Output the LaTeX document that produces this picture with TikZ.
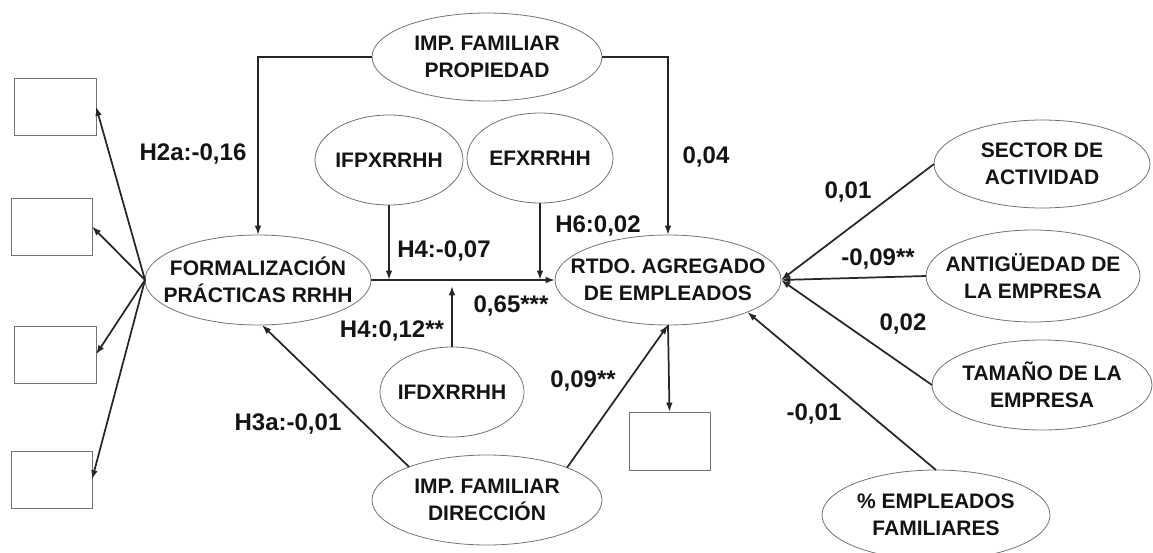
\documentclass[tikz,border=0pt]{standalone}
\usepackage{fontspec}
\setmainfont{Liberation Sans}
\usetikzlibrary{shapes.geometric,arrows.meta}
\begin{document}
\begin{tikzpicture}[x=0.75pt,y=-0.75pt,
 ell/.style={draw=black!55, line width=0.6pt, ellipse, inner sep=0pt, outer sep=0pt},
 txt/.style={align=center, font=\bfseries\fontsize{15.75}{20.25}\selectfont, text=black!92, inner sep=0pt},
 box/.style={draw=black!55, line width=0.6pt, rectangle, inner sep=0pt, outer sep=0pt},
 lab/.style={font=\bfseries\fontsize{18}{20}\selectfont, text=black!92, inner sep=0pt, anchor=base},
 conn/.style={draw=black!85, line width=1.3pt, -{Latex[length=7pt,width=5pt]}},
]
\useasboundingbox (0,0) rectangle (1153,553);

% ellipses
\node[ell, minimum width=169.5pt, minimum height=67.5pt] (form) at (258,280) {};
\node[txt] (formt) at (form) {FORMALIZACIÓN\\PRÁCTICAS RRHH};
\node[ell, minimum width=169.5pt, minimum height=67.5pt] (rtdo) at (668,280) {};
\node[txt] (rtdot) at (rtdo) {RTDO. AGREGADO\\DE EMPLEADOS};
\node[ell, minimum width=172.5pt, minimum height=66pt] (prop) at (487,57) {};
\node[txt] (propt) at (prop) {IMP. FAMILIAR\\PROPIEDAD};
\node[ell, minimum width=172.5pt, minimum height=67.5pt] (dir) at (487,500) {};
\node[txt] (dirt) at (dir) {IMP. FAMILIAR\\DIRECCIÓN};
\node[ell, minimum width=111pt, minimum height=67.5pt] (ifp) at (389,160) {};
\node[txt] (ifpt) at (ifp) {IFPXRRHH};
\node[ell, minimum width=109.5pt, minimum height=67.5pt] (efx) at (540,158) {};
\node[txt] (efxt) at (efx) {EFXRRHH};
\node[ell, minimum width=108pt, minimum height=67.5pt] (ifd) at (452,392) {};
\node[txt] (ifdt) at (ifd) {IFDXRRHH};
\node[ell, minimum width=162pt, minimum height=66pt] (sector) at (1042,164) {};
\node[txt] (sectort) at (sector) {SECTOR DE\\ACTIVIDAD};
\node[ell, minimum width=160.5pt, minimum height=69pt] (antig) at (1033,276) {};
\node[txt] (antigt) at (antig) {ANTIGÜEDAD DE\\LA EMPRESA};
\node[ell, minimum width=165pt, minimum height=67.5pt] (tam) at (1042,385) {};
\node[txt] (tamt) at (tam) {TAMAÑO DE LA\\EMPRESA};
\node[ell, minimum width=171pt, minimum height=67.5pt] (emp) at (936,515) {};
\node[txt] (empt) at (emp) {\% EMPLEADOS\\FAMILIARES};

% boxes
\node[box, minimum width=61.5pt, minimum height=42.75pt] (b1) at (55,106.5) {};
\node[box, minimum width=60.75pt, minimum height=42.75pt] (b2) at (51.5,226.5) {};
\node[box, minimum width=61.5pt, minimum height=42.75pt] (b3) at (55,354.5) {};
\node[box, minimum width=60.75pt, minimum height=42.75pt] (b4) at (51.5,479.5) {};
\node[box, minimum width=60.75pt, minimum height=43.5pt] (b5) at (669.5,441) {};

% connectors
\draw[conn] (form.west) -- (b1.east);
\draw[conn] (form.west) -- (b2.east);
\draw[conn] (form.west) -- (b3.east);
\draw[conn] (form.west) -- (b4.east);
\draw[conn] (prop.west) -| (form.north);
\draw[conn] (prop.east) -| (rtdo.north);
\draw[conn] (form.east) -- (rtdo.west);
\draw[conn] (ifp.south) -- (ifp.south |- form.east);
\draw[conn] (efx.south) -- (efx.south |- form.east);
\coordinate (ifdtip) at (452,286);
\draw[conn] (ifd.north) -- (ifdtip);
\draw[conn] (dir.157) -- (form.-85);
\draw[conn] (dir.22) -- (rtdo.south);
\draw[conn] (rtdo.south) -- (b5.north);
\draw[conn] (sector.west) -- (rtdo.east);
\draw[conn] (antig.west) -- (rtdo.east);
\draw[conn] (tam.west) -- (rtdo.east);
\draw[conn] (emp.north) -- (rtdo.-22);

% labels
\node[lab] (l1) at (193,160) {H2a:-0,16};
\node[lab] (l2) at (444,257) {H4:-0,07};
\node[lab] (l3) at (598,232) {H6:0,02};
\node[lab] (l4) at (706,163) {0,04};
\node[lab] (l5) at (392,337) {H4:0,12**};
\node[lab] (l6) at (511,312) {0,65***};
\node[lab] (l7) at (583,387) {0,09**};
\node[lab] (l8) at (288,430) {H3a:-0,01};
\node[lab] (l9) at (848,198) {0,01};
\node[lab] (l10) at (878,265) {-0,09**};
\node[lab] (l11) at (903,330) {0,02};
\node[lab] (l12) at (814,420) {-0,01};
\end{tikzpicture}
\end{document}
